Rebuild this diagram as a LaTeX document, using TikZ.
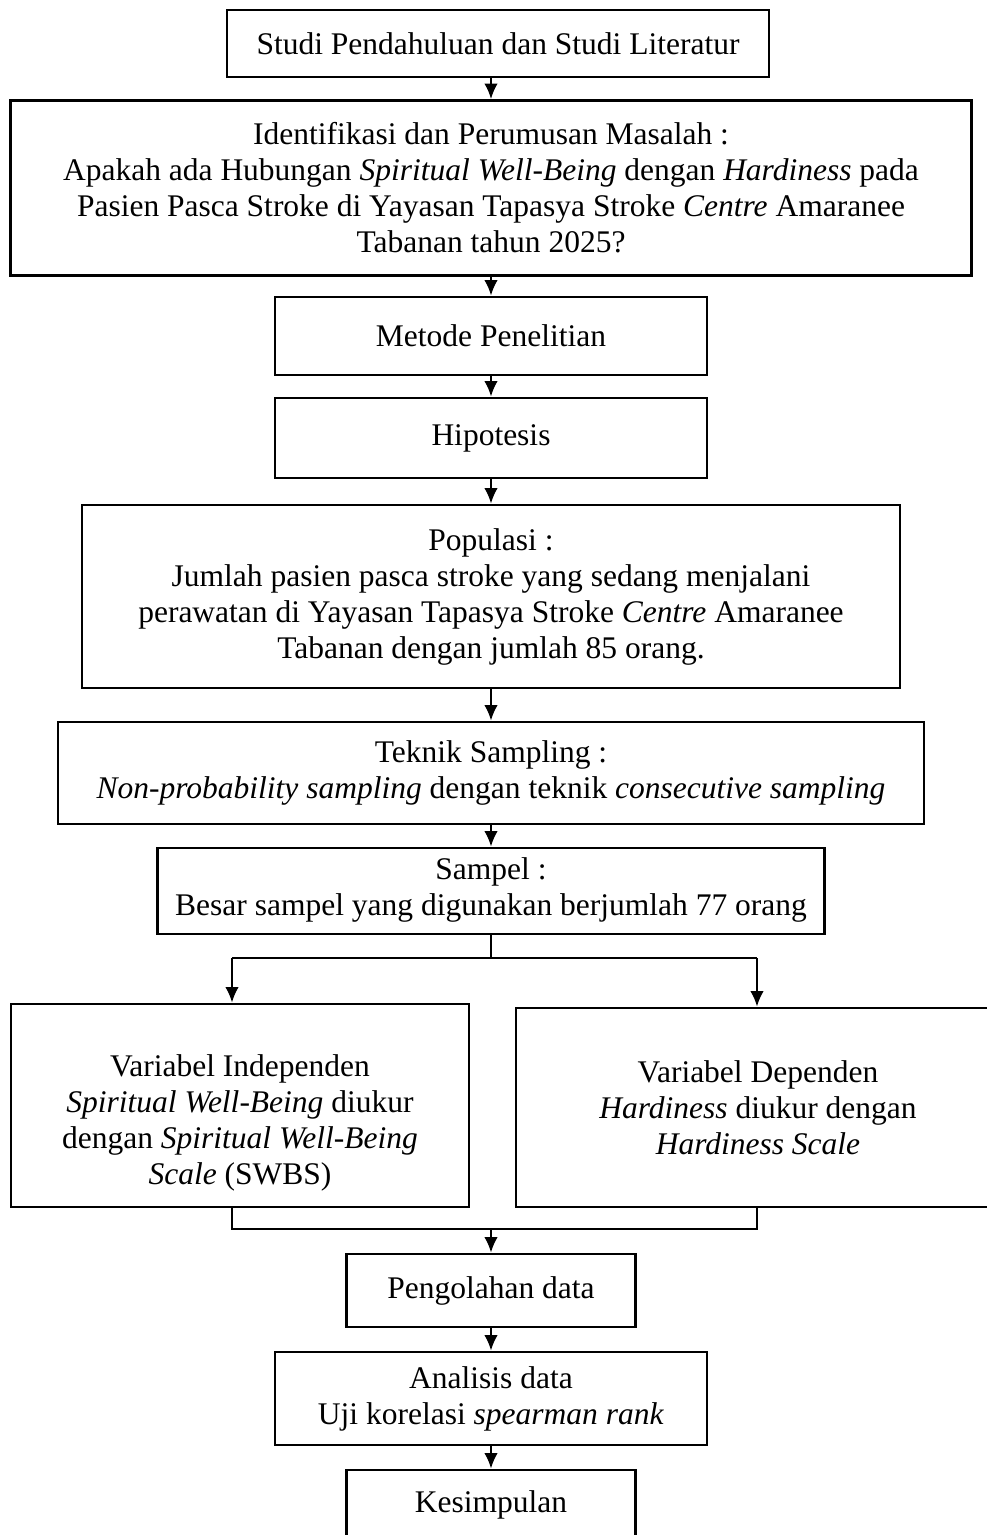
\documentclass[tikz,border=0pt]{standalone}
\usepackage{fontspec}
\setmainfont{Liberation Serif}
\usetikzlibrary{arrows.meta,scopes}
\tikzset{
  >={Latex[length=6.2pt,width=5.4pt]},
  bx/.style 2 args={rectangle, draw, line width=1.15pt, inner sep=0pt, align=center,
    minimum width=#1*0.4pt, minimum height=#2*0.4pt},
  tx/.style={align=center, inner sep=0pt}
}

\begin{document}
\begin{tikzpicture}[x=0.4pt, y=-0.4pt, font={\fontsize{12.6}{14.4}\selectfont},
  line/.style={draw, line width=0.8pt}]
  \useasboundingbox (0,0) rectangle (987,1535);
  \clip (0,0) rectangle (987,1535);

  \node[bx={542}{67}] (studi) at (498,43.5) {Studi Pendahuluan dan Studi Literatur};
  \node[bx={961}{175}] (identifikasi) at (491,188) {Identifikasi dan Perumusan Masalah :\\
    Apakah ada Hubungan \textit{Spiritual Well-Being} dengan \textit{Hardiness} pada\\
    Pasien Pasca Stroke di Yayasan Tapasya Stroke \textit{Centre} Amaranee\\
    Tabanan tahun 2025?};
  \node[bx={432}{78}] (metode) at (491,336) {Metode Penelitian};
  \node[bx={432}{80}] (hipotesis) at (491,438) {Hipotesis};
  \node[bx={818}{183}] (populasi) at (491,596.5) {Populasi :\\
    Jumlah pasien pasca stroke yang sedang menjalani\\
    perawatan di Yayasan Tapasya Stroke \textit{Centre} Amaranee\\
    Tabanan dengan jumlah 85 orang.};
  \node[bx={866}{102}] (teknik) at (491,773) {Teknik Sampling :\\
    \textit{Non-probability sampling} dengan teknik \textit{consecutive sampling}};
  \node[bx={667}{86}] (sampel) at (491,891) {};
  \node[tx] (sampeltx) at (491,890) {Sampel :\\
    Besar sampel yang digunakan berjumlah 77 orang};
  \node[bx={458}{203}] (varind) at (240,1105.5) {};
  \node[tx] (varindtx) at (240,1123) {Variabel Independen\\
    \textit{Spiritual Well-Being} diukur\\
    dengan \textit{Spiritual Well-Being}\\
    \textit{Scale} (SWBS)};
  \node[bx={484}{199}] (vardep) at (758,1107.5) {Variabel Dependen\\
    \textit{Hardiness} diukur dengan\\
    \textit{Hardiness Scale}};
  \node[bx={289}{73}] (olah) at (491,1290.5) {Pengolahan data};
  \node[bx={432}{93}] (analisis) at (491,1398.5) {Analisis data\\
    Uji korelasi \textit{spearman rank}};
  \node[bx={289}{70}] (simpul) at (491,1505) {Kesimpulan};

  \coordinate (split) at (491,958);
  \coordinate (splitL) at (232,958);
  \coordinate (splitR) at (757,958);
  \coordinate (join) at (491,1229);
  \coordinate (joinL) at (232,1229);
  \coordinate (joinR) at (757,1229);

  {[->, line]
    \draw (studi.south -| identifikasi.north) -- (identifikasi.north);
    \draw (identifikasi) edge (metode);
    \draw (metode) edge (hipotesis);
    \draw (hipotesis) edge (populasi);
    \draw (populasi) edge (teknik);
    \draw (teknik) edge (sampel);
    \draw (splitL) -- (splitL |- varind.north);
    \draw (splitR) -- (splitR |- vardep.north);
    \draw (join) -- (olah);
    \draw (olah) edge (analisis);
    \draw (analisis) edge (simpul);
  }
  % cabang dan gabungan variabel
  \begin{scope}[every path/.style=line]
    \path (sampel) -- (split);
    \path (splitL) -- (splitR);
    \path (joinL |- varind.south) -- (joinL) -- (joinR) -- (joinR |- vardep.south);
  \end{scope}
\end{tikzpicture}
\end{document}
